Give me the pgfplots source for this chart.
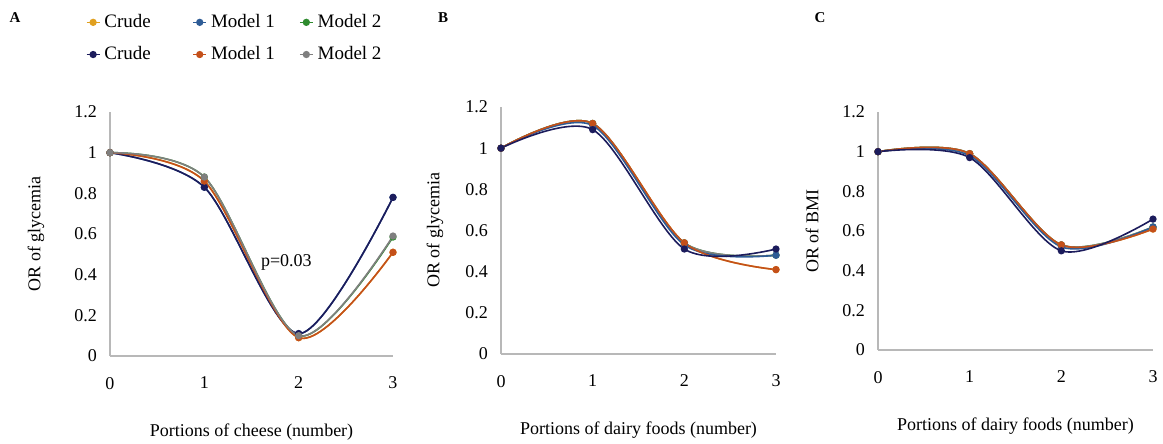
\documentclass[border=0pt]{standalone}
\usepackage{pgfplots}
\pgfplotsset{compat=1.18}
\usepackage{fontspec}
\setmainfont{Liberation Serif}
\definecolor{cyel}{HTML}{E0A020}
\definecolor{cblu}{HTML}{2E5C96}
\definecolor{cgrn}{HTML}{2E8B2E}
\definecolor{cnav}{HTML}{1C1C5C}
\definecolor{corg}{HTML}{C4501A}
\definecolor{cgry}{HTML}{7F7F7F}
\newcommand{\fs}{\fontsize{9}{10.5}\selectfont}
\pgfplotsset{
 panel/.style={scale only axis, xmin=0, xmax=3, ymin=0, ymax=1.2,
  axis x line*=bottom, axis y line*=left,
  axis line style={draw=black!28, line width=0.6pt, -},
  xtick={0,1,2,3}, ytick={0,0.2,0.4,0.6,0.8,1,1.2}, major tick length=0pt,
  tick label style={font=\fs}, label style={font=\fs},
  /pgf/number format/assume math mode=true,
  xticklabel style={yshift=-7pt}, yticklabel style={xshift=-3pt},
  xlabel style={at={(axis description cs:0.5,0)}, anchor=center, yshift=-38pt},
  ylabel style={at={(axis description cs:0,0.5)}, anchor=center, yshift=37pt},
  clip=false,
  every axis plot/.append style={smooth, line width=0.8pt, mark=*, mark size=1.4pt},
 }}
\begin{document}
\begin{tikzpicture}
\useasboundingbox (0,0) rectangle (581.5pt,222pt);
\node[font=\bfseries\fontsize{7.5}{8}\selectfont] at (7.5pt,213pt) {A};
\node[font=\bfseries\fontsize{7.5}{8}\selectfont] at (221.5pt,213pt) {B};
\node[font=\bfseries\fontsize{7.5}{8}\selectfont] at (410pt,213pt) {C};

% A: cheese, glycemia
\begin{axis}[panel, at={(55pt,44pt)}, anchor=south west, width=141.5pt, height=122pt,
 xlabel={Portions of cheese (number)}, ylabel={OR of glycemia},
 legend columns=3,
 legend style={at={(axis description cs:-0.108,1.435)}, anchor=north west, draw=none, fill=none,
  font=\fontsize{9.5}{11}\selectfont, row sep=4pt, cells={anchor=west}},
 legend image code/.code={\draw[#1, mark repeat=2, mark phase=2] plot coordinates {(0pt,0pt)(3.25pt,0pt)(6.5pt,0pt)};}]
\addplot[cyel] coordinates {(0,1)(1,0.86)(2,0.09)(3,0.51)};
\addplot[cblu] coordinates {(0,1)(1,0.83)(2,0.11)(3,0.78)};
\addplot[cgrn] coordinates {(0,1)(1,0.88)(2,0.10)(3,0.585)};
\addplot[cnav] coordinates {(0,1)(1,0.83)(2,0.11)(3,0.78)};
\addplot[corg] coordinates {(0,1)(1,0.86)(2,0.09)(3,0.51)};
\addplot[cgry] coordinates {(0,1)(1,0.88)(2,0.10)(3,0.59)};
\legend{\makebox[42pt][l]{Crude},\makebox[42pt][l]{Model 1},Model 2,
 \makebox[42pt][l]{Crude},\makebox[42pt][l]{Model 1},Model 2}
\node[font=\fs] at (axis cs:1.87,0.46) {p=0.03};
\end{axis}

% B: dairy foods, glycemia
\begin{axis}[panel, at={(250.5pt,45pt)}, anchor=south west, width=137.5pt, height=123.5pt,
 xlabel={Portions of dairy foods (number)}, ylabel={OR of glycemia},
 ylabel style={yshift=-4pt}]
\addplot[cyel] coordinates {(0,1)(1,1.12)(2,0.54)(3,0.41)};
\addplot[cgrn] coordinates {(0,1)(1,1.12)(2,0.54)(3,0.48)};
\addplot[cgry] coordinates {(0,1)(1,1.12)(2,0.54)(3,0.48)};
\addplot[cblu] coordinates {(0,1)(1,1.11)(2,0.53)(3,0.48)};
\addplot[corg] coordinates {(0,1)(1,1.12)(2,0.54)(3,0.41)};
\addplot[cnav] coordinates {(0,1)(1,1.09)(2,0.51)(3,0.51)};
\end{axis}

% C: dairy foods, BMI
\begin{axis}[panel, at={(439pt,47pt)}, anchor=south west, width=137.5pt, height=119pt,
 xlabel={Portions of dairy foods (number)}, ylabel={OR of BMI},
 ylabel style={yshift=-4pt}]
\addplot[cyel] coordinates {(0,1)(1,0.99)(2,0.53)(3,0.61)};
\addplot[cgrn] coordinates {(0,1)(1,0.99)(2,0.53)(3,0.62)};
\addplot[cgry] coordinates {(0,1)(1,0.99)(2,0.53)(3,0.62)};
\addplot[cblu] coordinates {(0,1)(1,0.98)(2,0.52)(3,0.62)};
\addplot[corg] coordinates {(0,1)(1,0.99)(2,0.53)(3,0.61)};
\addplot[cnav] coordinates {(0,1)(1,0.97)(2,0.50)(3,0.66)};
\end{axis}
\end{tikzpicture}
\end{document}
